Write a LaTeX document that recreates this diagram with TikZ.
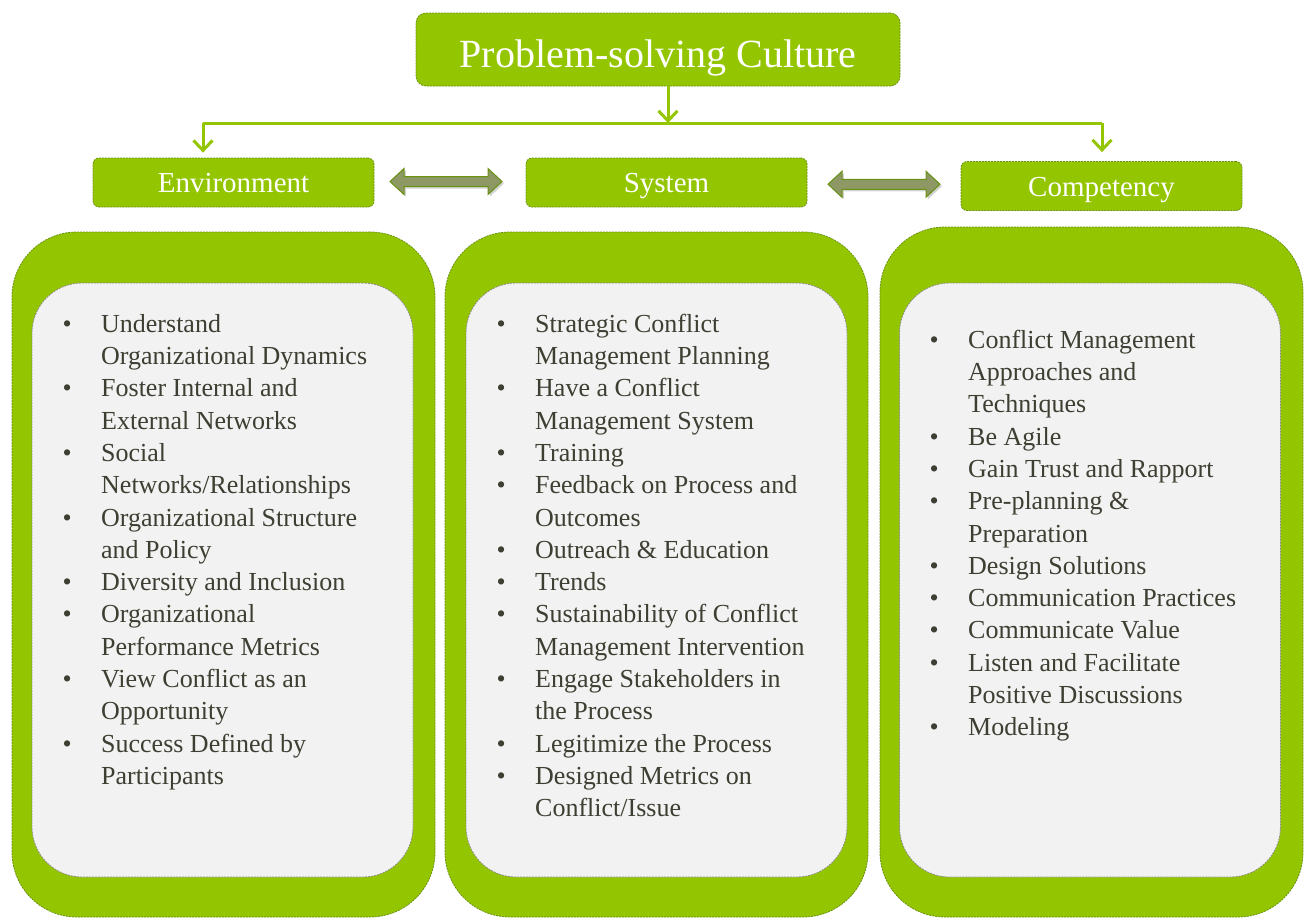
\documentclass[tikz,border=0pt]{standalone}
\usepackage{fontspec}
\setmainfont{Liberation Serif}
\usetikzlibrary{arrows.meta,shadows,calc}
\definecolor{leaf}{RGB}{147,197,0}
\definecolor{leaf edge}{RGB}{105,145,20}
\definecolor{panel area}{RGB}{242,242,242}
\definecolor{panel edge}{RGB}{140,140,128}
\definecolor{olive arrow}{RGB}{142,152,100}
\definecolor{body text}{RGB}{62,62,50}
\tikzset{
  fine dash/.style={dash pattern=on 2pt off 1pt, line width=0.8pt},
  headbox/.style={rectangle, rounded corners=6pt, fill=leaf, draw=leaf edge, fine dash, text=white,
    minimum width=281pt, minimum height=49pt, inner sep=0pt, text height=24pt, text depth=4pt,
    font=\fontsize{29}{30}\selectfont},
  outer panel/.style={rectangle, rounded corners=65pt, fill=leaf, draw=leaf edge, fine dash, minimum width=423pt},
  inner panel/.style={rectangle, rounded corners=50pt, fill=panel area, draw=panel edge, fine dash,
    minimum width=381pt, minimum height=594pt},
  list/.style={anchor=north west, inner sep=0pt, text=body text, font=\fontsize{26}{32.3}\selectfont},
  fatarrow/.pic={
    \path[fill=olive arrow, draw=leaf edge, line width=1pt, drop shadow={opacity=0.35, shadow xshift=2pt, shadow yshift=-2pt}]
      (-56,0) -- (-42,-13) -- (-42,-5) -- (42,-5) -- (42,-13) -- (56,0) -- (42,13) -- (42,5) -- (-42,5) -- (-42,13) -- cycle;
  }
}
\tikzstyle{link} = [draw=leaf, line width=3pt]
\tikzstyle{tip} = [-{Straight Barb[length=10pt,width=19pt]}]

\begin{document}
\begin{tikzpicture}[x=1pt, y=-1pt]
    \useasboundingbox (0,0) rectangle (1306,918);

    % title and the three headings
    \node[headbox, minimum width=484pt, minimum height=73pt, rounded corners=10pt,
      text height=38pt, text depth=3pt, font=\fontsize{40}{42}\selectfont] (title) at (658,49.5) {Problem-solving Culture};

    \foreach \name/\pos/\txt in {env/{(233.5,182.5)}/Environment, sys/{(666.5,182.5)}/System, comp/{(1101.5,186)}/Competency}
      \node[headbox] (\name) at \pos {\txt};

    % connectors from the title down to the headings
    \coordinate (hl) at (203,123);
    \coordinate (hr) at (1102,123);
    \coordinate (drop) at (668,123);
    \path[link] (hl) -- (hr);
    \path[link, tip] (title.south -| drop) -- (drop);
    \path[link, tip, shorten >=5pt] (hl) -- (hl |- env.north);
    \path[link, tip, shorten >=9pt] (hr) -- (hr |- comp.north);

    \pic at ($(env.east)!0.5!(sys.west)+(-4,-1)$) {fatarrow};
    \pic at ($(sys.east)!0.5!(comp.west)$) {fatarrow};

    % panels
    \foreach \name/\cx/\cy/\h in {envp/223.5/574.5/685, sysp/656.5/574.5/685, compp/1091.5/572/690}
      \node[outer panel, minimum height=\h pt] (\name) at (\cx,\cy) {};
    \foreach \name/\cx in {envi/222.5, sysi/656.5, compi/1090}
      \node[inner panel] (\name) at (\cx,580) {};

    \node[list] (envlist) at (62.5,309.4) {\begin{tabular}{@{}p{38.5pt}@{}l@{}}
      \textbullet & Understand\\
                  & Organizational Dynamics\\
      \textbullet & Foster Internal and\\
                  & External Networks\\
      \textbullet & Social\\
                  & Networks/Relationships\\
      \textbullet & Organizational Structure\\
                  & and Policy\\
      \textbullet & Diversity and Inclusion\\
      \textbullet & Organizational\\
                  & Performance Metrics\\
      \textbullet & View Conflict as an\\
                  & Opportunity\\
      \textbullet & Success Defined by\\
                  & Participants
    \end{tabular}};

    \node[list] (syslist) at (496.5,309.4) {\begin{tabular}{@{}p{38.5pt}@{}l@{}}
      \textbullet & Strategic Conflict\\
                  & Management Planning\\
      \textbullet & Have a Conflict\\
                  & Management System\\
      \textbullet & Training\\
      \textbullet & Feedback on Process and\\
                  & Outcomes\\
      \textbullet & Outreach \& Education\\
      \textbullet & Trends\\
      \textbullet & Sustainability of Conflict\\
                  & Management Intervention\\
      \textbullet & Engage Stakeholders in\\
                  & the Process\\
      \textbullet & Legitimize the Process\\
      \textbullet & Designed Metrics on\\
                  & Conflict/Issue
    \end{tabular}};

    \node[list] (complist) at (929.5,325.4) {\begin{tabular}{@{}p{38.5pt}@{}l@{}}
      \textbullet & Conflict Management\\
                  & Approaches and\\
                  & Techniques\\
      \textbullet & Be Agile\\
      \textbullet & Gain Trust and Rapport\\
      \textbullet & Pre-planning \&\\
                  & Preparation\\
      \textbullet & Design Solutions\\
      \textbullet & Communication Practices\\
      \textbullet & Communicate Value\\
      \textbullet & Listen and Facilitate\\
                  & Positive Discussions\\
      \textbullet & Modeling
    \end{tabular}};

\end{tikzpicture}
\end{document}
